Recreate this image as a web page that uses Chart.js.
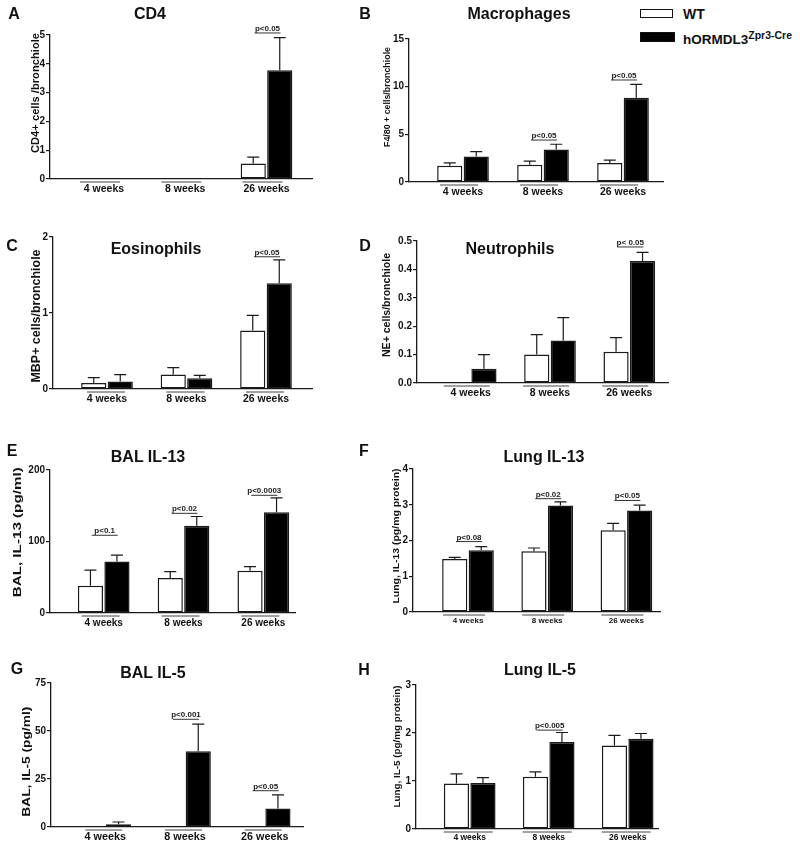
<!DOCTYPE html>
<html lang="en">
<head>
<meta charset="UTF-8">
<title>hORMDL3 airway inflammation panels</title>
<script src="https://cdn.jsdelivr.net/npm/chart.js@4.4.1/dist/chart.umd.min.js"></script>
<style>
    body { margin: 0; width: 800px; height: 848px; position: relative; overflow: hidden; background: #fff;
           font-family: 'Liberation Sans', Arial, sans-serif; color: #111; }
    canvas { position: absolute; }
    .lbl { position: absolute; transform: translate(-50%, -50%); font-weight: bold; white-space: nowrap; line-height: 1; }
    .letter { font-size: 16px; }
    .ttl { font-size: 16px; }
    .box { position: absolute; box-sizing: border-box; border: 1.5px solid #111; }
    .leg { position: absolute; font-weight: bold; white-space: nowrap; line-height: 1; transform: translateY(-50%); }
</style>
</head>
<body>
<div class="box" style="left:640px;top:9px;width:33px;height:9px;background:#fff"></div>
<div class="box" style="left:640px;top:32px;width:35px;height:10px;background:#000"></div>
<div class="leg" style="left:683px;top:14px;font-size:14px">WT</div>
<div class="leg" style="left:683px;top:38px;font-size:13.5px">hORMDL3<sup style="font-size:10.5px;vertical-align:5px">Zpr3-Cre</sup></div>

<script>
// categories
const weeks = ['4 weeks', '8 weeks', '26 weeks'];

// A: CD4
const cd4WT = [null, null, 0.54];
const cd4WTsem = [null, null, 0.22];
const cd4KO = [null, null, 3.78];
const cd4KOsem = [null, null, 1.13];
const cd4P = [null, null, 'p<0.05'];
const cd4PLevel = [null, null, 5.07];

// B: Macrophages
const macWT = [1.70, 1.81, 1.98];
const macWTsem = [0.31, 0.38, 0.31];
const macKO = [2.67, 3.40, 8.85];
const macKOsem = [0.52, 0.56, 1.39];
const macP = [null, 'p<0.05', 'p<0.05'];
const macPLevel = [null, 4.4, 10.7];

// C: Eosinophils
const eosWT = [0.08, 0.19, 0.77];
const eosWTsem = [0.07, 0.09, 0.20];
const eosKO = [0.10, 0.14, 1.39];
const eosKOsem = [0.09, 0.04, 0.31];
const eosP = [null, null, 'p<0.05'];
const eosPLevel = [null, null, 1.74];

// D: Neutrophils
const neuWT = [null, 0.10, 0.11];
const neuWTsem = [null, 0.07, 0.05];
const neuKO = [0.05, 0.15, 0.43];
const neuKOsem = [0.05, 0.08, 0.03];
const neuP = [null, null, 'p< 0.05'];
const neuPLevel = [null, null, 0.479];

// E: BAL IL-13
const balIl13WT = [38, 49, 59];
const balIl13WTsem = [22, 9, 6];
const balIl13KO = [72, 122, 141];
const balIl13KOsem = [9, 13, 20];
const balIl13P = ['p<0.1', 'p<0.02', 'p<0.0003'];
const balIl13PLevel = [108.7, 139.4, 164.6];

// F: Lung IL-13
const lungIl13WT = [1.48, 1.70, 2.29];
const lungIl13WTsem = [0.05, 0.09, 0.19];
const lungIl13KO = [1.73, 2.98, 2.84];
const lungIl13KOsem = [0.10, 0.10, 0.15];
const lungIl13P = ['p<0.08', 'p<0.02', 'p<0.05'];
const lungIl13PLevel = [1.97, 3.17, 3.12];

// G: BAL IL-5
const balIl5WT = [null, null, 0.3];
const balIl5WTsem = [null, null, null];
const balIl5KO = [1.4, 39.5, 9.6];
const balIl5KOsem = [1.2, 14.1, 7.1];
const balIl5P = [null, 'p<0.001', 'p<0.05'];
const balIl5PLevel = [null, 56.1, 18.9];

// H: Lung IL-5
const lungIl5WT = [0.95, 1.09, 1.74];
const lungIl5WTsem = [0.20, 0.10, 0.21];
const lungIl5KO = [0.96, 1.81, 1.88];
const lungIl5KOsem = [0.11, 0.20, 0.11];
const lungIl5P = [null, 'p<0.005', null];
const lungIl5PLevel = [null, 2.06, null];

// panel layout (page pixels): plot box, title / letter spots, y-title spot
const panels = [
    { letter: 'A', title: 'CD4', yTitle: 'CD4+ cells /bronchiole',
      wt: cd4WT, wtSem: cd4WTsem, ko: cd4KO, koSem: cd4KOsem, pText: cd4P, pLevel: cd4PLevel,
      yMax: 5, yStep: 1, dec: 0,
      box: { l: 50, r: 312, t: 35, b: 179, c1: 104, step: 81.25 },
      letterAt: [14, 14], titleAt: [150, 14], yt: { x: 36, y: 93, size: 10.5, len: 120 }, catSize: 10.5, ul: [-24, 16] },
    { letter: 'B', title: 'Macrophages', yTitle: 'F4/80 + cells/bronchiole',
      wt: macWT, wtSem: macWTsem, ko: macKO, koSem: macKOsem, pText: macP, pLevel: macPLevel,
      yMax: 15, yStep: 5, dec: 0,
      box: { l: 409, r: 663, t: 39, b: 182, c1: 463, step: 80 },
      letterAt: [365, 14], titleAt: [519, 14], yt: { x: 387.5, y: 97, size: 9.5, len: 100 }, catSize: 10.5, ul: [-23, 15] },
    { letter: 'C', title: 'Eosinophils', yTitle: 'MBP+ cells/bronchiole',
      wt: eosWT, wtSem: eosWTsem, ko: eosKO, koSem: eosKOsem, pText: eosP, pLevel: eosPLevel,
      yMax: 2, yStep: 1, dec: 0,
      box: { l: 53, r: 312, t: 237, b: 389, c1: 107, step: 79.5 },
      letterAt: [12, 246], titleAt: [156, 249], yt: { x: 37, y: 316, size: 12.5, len: 133 }, catSize: 10.5, ul: [-20, 18] },
    { letter: 'D', title: 'Neutrophils', yTitle: 'NE+ cells/bronchiole',
      wt: neuWT, wtSem: neuWTsem, ko: neuKO, koSem: neuKOsem, pText: neuP, pLevel: neuPLevel,
      yMax: 0.5, yStep: 0.1, dec: 1,
      box: { l: 417, r: 668, t: 241, b: 383, c1: 470.7, step: 79.3 },
      letterAt: [365, 246], titleAt: [510, 249], yt: { x: 387, y: 305, size: 10.5, len: 104 }, catSize: 10.5, ul: [-27, 19] },
    { letter: 'E', title: 'BAL IL-13', yTitle: 'BAL, IL-13 (pg/ml)',
      wt: balIl13WT, wtSem: balIl13WTsem, ko: balIl13KO, koSem: balIl13KOsem, pText: balIl13P, pLevel: balIl13PLevel,
      yMax: 200, yStep: 100, dec: 0,
      box: { l: 50, r: 295, t: 469.7, b: 612.7, c1: 103.7, step: 79.8 },
      letterAt: [12, 451], titleAt: [148, 457], yt: { x: 18, y: 532, size: 11, len: 130 }, catSize: 10, ul: [-22, 16] },
    { letter: 'F', title: 'Lung IL-13', yTitle: 'Lung, IL-13 (pg/mg protein)',
      wt: lungIl13WT, wtSem: lungIl13WTsem, ko: lungIl13KO, koSem: lungIl13KOsem, pText: lungIl13P, pLevel: lungIl13PLevel,
      yMax: 4, yStep: 1, dec: 0,
      box: { l: 413, r: 660, t: 469, b: 612.3, c1: 468, step: 79.2 },
      letterAt: [364, 451], titleAt: [544, 457], yt: { x: 396, y: 536, size: 9.5, len: 135 }, catSize: 8, ul: [-25, 17] },
    { letter: 'G', title: 'BAL IL-5', yTitle: 'BAL, IL-5 (pg/ml)',
      wt: balIl5WT, wtSem: balIl5WTsem, ko: balIl5KO, koSem: balIl5KOsem, pText: balIl5P, pLevel: balIl5PLevel,
      yMax: 75, yStep: 25, dec: 0,
      box: { l: 51, r: 303, t: 683.3, b: 827, c1: 105.3, step: 79.7 },
      letterAt: [17, 669], titleAt: [153, 672.5], yt: { x: 27, y: 762, size: 11, len: 110 }, catSize: 10.8, ul: [-20, 17] },
    { letter: 'H', title: 'Lung IL-5', yTitle: 'Lung, IL-5 (pg/mg protein)',
      wt: lungIl5WT, wtSem: lungIl5WTsem, ko: lungIl5KO, koSem: lungIl5KOsem, pText: lungIl5P, pLevel: lungIl5PLevel,
      yMax: 3, yStep: 1, dec: 0,
      box: { l: 416, r: 658, t: 684.5, b: 828.3, c1: 469.7, step: 79 },
      letterAt: [364, 670], titleAt: [540, 670], yt: { x: 397.5, y: 746, size: 9.5, len: 122 }, catSize: 8.5, ul: [-26, 23] }
];

Chart.defaults.font.family = "'Liberation Sans', Arial, sans-serif";
Chart.defaults.color = '#111';

const INK = '#1a1a1a';

// error bars, p-value brackets, group underlines and the rotated y title
const extras = {
    id: 'extras',
    afterDatasetsDraw(chart, args, o) {
        const ctx = chart.ctx, y = chart.scales.y, x = chart.scales.x;
        const area = chart.chartArea;
        ctx.save();
        ctx.strokeStyle = INK;
        ctx.lineWidth = 1.2;
        [0, 1].forEach(d => {
            const meta = chart.getDatasetMeta(d);
            const val = d === 0 ? o.p.wt : o.p.ko;
            const sem = d === 0 ? o.p.wtSem : o.p.koSem;
            meta.data.forEach((bar, i) => {
                if (val[i] == null || sem[i] == null) return;
                const top = y.getPixelForValue(val[i] + sem[i]);
                ctx.beginPath();
                ctx.moveTo(bar.x, bar.y);
                ctx.lineTo(bar.x, top);
                ctx.moveTo(bar.x - 6, top);
                ctx.lineTo(bar.x + 6, top);
                ctx.stroke();
            });
        });

        // underline under each group
        ctx.lineWidth = 1;
        ctx.strokeStyle = '#444';
        weeks.forEach((w, i) => {
            const cx = x.getPixelForValue(i + 1);
            ctx.beginPath();
            ctx.moveTo(cx + o.p.ul[0], area.bottom + 3);
            ctx.lineTo(cx + o.p.ul[1], area.bottom + 3);
            ctx.stroke();
        });

        // p-values
        ctx.font = 'bold 8px ' + Chart.defaults.font.family;
        ctx.fillStyle = '#222';
        ctx.textAlign = 'center';
        ctx.textBaseline = 'alphabetic';
        ctx.strokeStyle = '#333';
        o.p.pText.forEach((t, i) => {
            if (!t) return;
            const cx = x.getPixelForValue(i + 1);
            const ly = y.getPixelForValue(o.p.pLevel[i]);
            ctx.beginPath();
            ctx.moveTo(cx - 12, ly);
            ctx.lineTo(cx + 14, ly);
            ctx.stroke();
            ctx.fillText(t, cx + 1, ly - 2);
        });

        // y title, stretched to the length it has in the figure
        const yt = o.p.yt;
        ctx.font = 'bold ' + yt.size + 'px ' + Chart.defaults.font.family;
        ctx.fillStyle = '#111';
        ctx.textBaseline = 'middle';
        const w = ctx.measureText(o.p.yTitle).width;
        ctx.translate(yt.x - o.ox, yt.y - o.oy);
        ctx.rotate(-Math.PI / 2);
        ctx.scale(yt.len / w, 1);
        ctx.fillText(o.p.yTitle, 0, 0);
        ctx.restore();
    }
};

function addText(cls, text, at) {
    const el = document.createElement('div');
    el.className = 'lbl ' + cls;
    el.textContent = text;
    el.style.left = at[0] + 'px';
    el.style.top = at[1] + 'px';
    document.body.appendChild(el);
}

panels.forEach(p => {
    const b = p.box;
    const ox = b.l - 60, oy = b.t - 40;
    const W = Math.round(b.r - ox + 8), H = Math.round(b.b - oy + 30);
    const cv = document.createElement('canvas');
    cv.width = W; cv.height = H;
    cv.style.left = ox + 'px';
    cv.style.top = oy + 'px';
    cv.style.width = W + 'px';
    cv.style.height = H + 'px';
    document.body.appendChild(cv);

    const xmin = 1 - (b.c1 - b.l) / b.step;
    const xmax = 1 + (b.r - b.c1) / b.step;
    const pts = arr => arr.map((v, i) => ({ x: i + 1, y: v }));

    new Chart(cv, {
        type: 'bar',
        data: {
            datasets: [
                { label: 'WT', data: pts(p.wt), backgroundColor: '#fff', borderColor: INK, borderWidth: 1.5, borderSkipped: false },
                { label: 'hORMDL3 Zpr3-Cre', data: pts(p.ko), backgroundColor: '#000', borderColor: INK, borderWidth: 1.5, borderSkipped: false }
            ]
        },
        options: {
            responsive: false,
            animation: false,
            devicePixelRatio: 1,
            layout: { padding: { top: 40, left: 0, right: 8, bottom: 0 } },
            datasets: { bar: { categoryPercentage: 53 / b.step, barPercentage: 0.95 } },
            plugins: {
                legend: { display: false },
                tooltip: { enabled: false },
                extras: { p: p, ox: ox, oy: oy }
            },
            scales: {
                x: {
                    type: 'linear', min: xmin, max: xmax, offset: false,
                    afterBuildTicks: s => { s.ticks = weeks.map((w, i) => ({ value: i + 1 })); },
                    afterFit: s => { s.height = 30; },
                    ticks: { callback: v => weeks[Math.round(v) - 1], font: { size: p.catSize, weight: 'bold' },
                             color: '#111', padding: 4, maxRotation: 0, autoSkip: false },
                    grid: { display: false, drawTicks: false, offset: false },
                    border: { display: true, color: INK, width: 1.3 }
                },
                y: {
                    min: 0, max: p.yMax,
                    afterFit: s => { s.width = 60; },
                    ticks: { stepSize: p.yStep, callback: v => v.toFixed(p.dec), font: { size: 10, weight: 'bold' },
                             color: '#111', padding: 1 },
                    grid: { display: true, drawOnChartArea: false, drawTicks: true, tickLength: 4, color: INK, lineWidth: 1.2 },
                    border: { display: true, color: INK, width: 1.3 }
                }
            }
        },
        plugins: [extras]
    });

    addText('letter', p.letter, p.letterAt);
    addText('ttl', p.title, p.titleAt);
});
</script>
</body>
</html>
